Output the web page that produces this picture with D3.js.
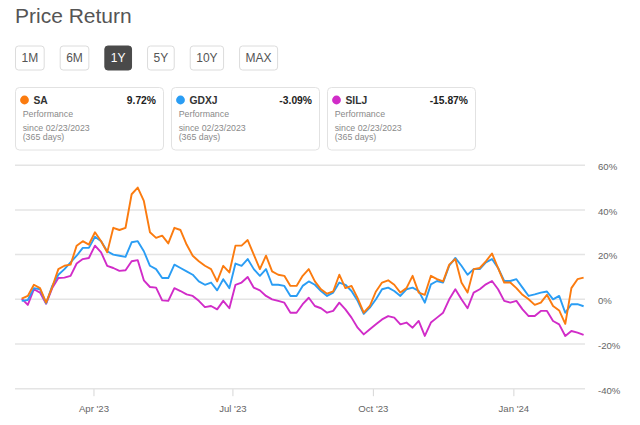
<!DOCTYPE html>
<html>
<head>
<meta charset="utf-8">
<script src="https://cdn.jsdelivr.net/npm/d3@7"></script>
<style>
  html, body { margin: 0; padding: 0; background: #fff; }
  svg { display: block; font-family: "Liberation Sans", Arial, sans-serif; }
</style>
</head>
<body>
<svg id="chart" width="640" height="425"></svg>
<script>
// ---------------- data ----------------
const title = "Price Return";
const ranges = ["1M", "6M", "1Y", "5Y", "10Y", "MAX"];
const activeRange = "1Y";

const tickers = ["SA", "GDXJ", "SILJ"];
const performance = ["9.72%", "-3.09%", "-15.87%"];
const sinceText = "since 02/23/2023";
const daysText = "(365 days)";
const seriesColors = ["#fb7b0f", "#2a9df4", "#d12cc8"];

// sample dates (read every 4 days along the axis)
const firstDate = new Date(2023, 1, 13);
const lastDate = new Date(2024, 1, 16);
const dates = d3.timeDay.range(firstDate, d3.timeDay.offset(lastDate, 1), 4);

const saValues = [
  0.3, 1.5, 6.5, 5, -1.5, 5.5, 13.5, 15, 15.5, 24,
  26, 24.5, 30, 26, 21, 32, 31, 32, 47, 50,
  44, 30, 27.5, 28.5, 25, 32, 31, 24.5, 19.5, 17,
  15, 13.5, 8, 15, 12, 24, 24, 26.5, 20, 13.5,
  19.5, 12.5, 11, 10.5, 6, 6, 10.5, 13.5, 8, 4.5,
  2.5, 3.5, 11, 5, 6, 0.5, -6, -3, 3.5, 7.5,
  8.5, 6.5, 3, 5, 10.5, 3, 2, 10.5, 9, 8,
  15.5, 18, 7.5, 3, 13.5, 14, 17, 20.5, 14, 7.5,
  7.5, 5, 2, 0, -2.5, -1.5, 2, -3, -5, -11,
  5, 9, 9.7
];
const gdxjValues = [
  -0.7, -0.3, 5, 4.5, -1.8, 6, 11, 13.5, 16.5, 19.5,
  23, 23, 28, 26, 21.5, 20, 19.5, 19, 25.5, 26,
  21.5, 15, 13.5, 9.5, 9.5, 15.5, 14, 12.5, 11, 8,
  6.5, 7.5, 4, 9, 5, 16, 15, 18, 13.5, 10.5,
  13.5, 6.5, 6.5, 6, 1.5, 1.5, 6, 8, 6.5, 3.7,
  1.5, 3, 7.5, 6.5, 3.7, -0.7, -6.5, -3.7, 0, 4.5,
  5.2, 3.7, 1.5, 4.5, 5.2, 3.7, -1.5, 6.7, 8.2, 7.5,
  15, 18.5, 15, 11, 13.5, 13.5, 16.5, 18, 14, 8.2,
  8.2, 9, 5.2, 1.5, 2.2, 3, 3.5, 0, 1.5, -6,
  -2.2, -2.2, -3.1
];
const siljValues = [
  0.3, -2.5, 4.5, 3, -2, 5, 9.5, 9.7, 10.5, 16,
  18, 18.5, 24, 21, 15, 14, 12.7, 13, 17, 17.5,
  8.5, 5.5, 5.2, -0.5, -0.7, 5, 3.7, 2.2, 1.5, -0.7,
  -3.5, -3, -4.5, -0.7, -4, 6.5, 7.5, 10, 5.2, 4,
  1.5, 0, -0.7, -1.5, -6, -6, -2.2, 0.7, -3, -4,
  -6, -5.2, -1.5, -4.5, -8.2, -12.7, -15.7, -13.4, -11.2, -9,
  -7.5, -8.2, -11.2, -10.4, -12.7, -9.7, -16.4, -10.4, -8.2, -6,
  0, 4.5, 0, -4, 3, 4.5, 6.7, 8.2, 4.5, -0.7,
  -1.5, -0.7, -4.5, -7.5, -7.5, -5.2, -5.2, -9.7, -11.2, -16.4,
  -14.2, -14.9, -15.9
];
const seriesValues = [saValues, gdxjValues, siljValues];

const yTicks = [-40, -20, 0, 20, 40, 60];
const xTickDates = [new Date(2023, 3, 1), new Date(2023, 6, 1), new Date(2023, 9, 1), new Date(2024, 0, 1)];

// ---------------- drawing ----------------
const svg = d3.select("#chart");

// title
svg.append("text")
  .attr("x", 15).attr("y", 23)
  .attr("font-size", 21).attr("fill", "#555")
  .text(title);

// range buttons
let bx = 15;
const btnG = svg.append("g");
ranges.forEach(r => {
  const g = btnG.append("g");
  const active = r === activeRange;
  const rect = g.append("rect").attr("y", 46).attr("height", 24).attr("rx", 3)
    .attr("fill", active ? "#4a4a4a" : "#fff")
    .attr("stroke", active ? "#4a4a4a" : "#dcdcdc").attr("stroke-width", 1);
  const t = g.append("text").attr("y", 62).attr("font-size", 12)
    .attr("text-anchor", "middle").attr("fill", active ? "#fff" : "#555").text(r);
  const w = t.node().getComputedTextLength() + 12;
  rect.attr("x", bx + 0.5).attr("width", w);
  t.attr("x", bx + 0.5 + w / 2);
  bx += w + 16;
});

// legend cards
tickers.forEach((tk, i) => {
  const cx = 15 + i * 156;
  const g = svg.append("g").attr("transform", `translate(${cx},0)`);
  g.append("rect").attr("x", 0.5).attr("y", 87.5).attr("width", 148).attr("height", 62.5)
    .attr("rx", 4).attr("fill", "#fff").attr("stroke", "#e2e2e2");
  g.append("circle").attr("cx", 9.5).attr("cy", 100).attr("r", 4.4).attr("fill", seriesColors[i]);
  g.append("text").attr("x", 18.5).attr("y", 104).attr("font-size", 10.3)
    .attr("font-weight", "bold").attr("fill", "#333").text(tk);
  g.append("text").attr("x", 141).attr("y", 104).attr("font-size", 10.3)
    .attr("font-weight", "bold").attr("fill", "#222").attr("text-anchor", "end").text(performance[i]);
  g.append("text").attr("x", 7.7).attr("y", 116.7).attr("font-size", 8.8).attr("fill", "#8a8a8a").text("Performance");
  g.append("text").attr("x", 7.7).attr("y", 130.7).attr("font-size", 8.8).attr("fill", "#8a8a8a").text(sinceText);
  g.append("text").attr("x", 7.7).attr("y", 139.7).attr("font-size", 8.8).attr("fill", "#8a8a8a").text(daysText);
});

// scales
const x = d3.scaleTime().domain([firstDate, lastDate]).range([21.7, 583.6]);
const y = d3.scaleLinear().domain([-40, 60]).range([388.7, 165.2]);
const gridLeft = 15, gridRight = 585;

// grid
svg.append("g").selectAll("line").data(yTicks).join("line")
  .attr("x1", gridLeft).attr("x2", gridRight)
  .attr("y1", d => y(d)).attr("y2", d => y(d))
  .attr("stroke", "#e4e4e4").attr("stroke-width", 1.5);

// y axis labels (right)
const yAxis = d3.axisRight(y).tickValues(yTicks).tickSize(0).tickPadding(0)
  .tickFormat(d => d + "%");
const yg = svg.append("g").attr("transform", `translate(598,0)`).call(yAxis);
yg.select(".domain").remove();
yg.selectAll("text").attr("font-size", 9.6).attr("fill", "#666").attr("dy", "0.45em")
  .attr("font-family", '"Liberation Sans", Arial, sans-serif');

// x axis
const xAxis = d3.axisBottom(x).tickValues(xTickDates).tickSize(7).tickPadding(9)
  .tickFormat(d3.timeFormat("%b '%y"));
const xg = svg.append("g").attr("transform", `translate(0,${y(-40) + 0.5})`).call(xAxis);
xg.select(".domain").remove();
xg.selectAll(".tick line").attr("stroke", "#d6d6d6");
xg.selectAll("text").attr("font-size", 9.6).attr("fill", "#666")
  .attr("font-family", '"Liberation Sans", Arial, sans-serif');

// lines
const line = d3.line().x((d, i) => x(dates[i])).y(d => y(d));
const order = [2, 1, 0];
order.forEach(k => {
  svg.append("path").datum(seriesValues[k])
    .attr("d", line)
    .attr("fill", "none")
    .attr("stroke", seriesColors[k])
    .attr("stroke-width", 1.9)
    .attr("stroke-linejoin", "round");
});
</script>
</body>
</html>
